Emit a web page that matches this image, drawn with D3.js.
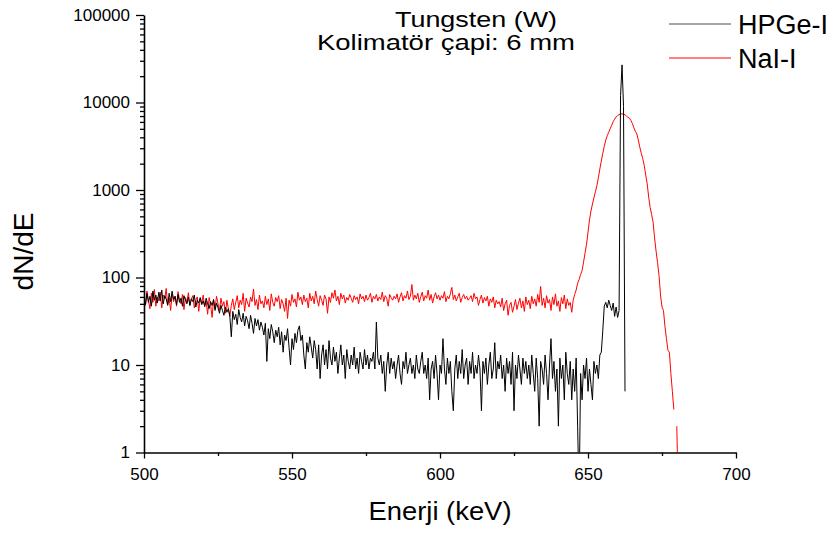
<!DOCTYPE html>
<html>
<head>
<meta charset="utf-8">
<script src="https://cdn.jsdelivr.net/npm/d3@7"></script>
<style>
  body { margin: 0; background: #ffffff; }
  svg { display: block; }
  text { font-family: "Liberation Sans", Arial, sans-serif; fill: #000; }
</style>
</head>
<body>
<svg id="chart" width="834" height="534"></svg>
<script>
// Energy grid of both spectra (keV): first channel and channel width
const energyStart = 500;
const energyStep = 0.5;

// HPGe-I spectrum, dN/dE per channel from 500.0 to 662.5 keV (10 channels per row = 5 keV)
const hpge = [
  58, 49, 66, 52, 61, 47, 70, 55, 63, 51,
  68, 54, 72, 50, 62, 57, 48, 66, 53, 70,
  56, 61, 49, 64, 52, 58, 47, 62, 55, 50,
  60, 48, 57, 53, 63, 46, 55, 51, 59, 49,
  54, 47, 58, 50, 44, 53, 48, 56, 42, 51,
  45, 39, 48, 42, 37, 46, 40, 44, 36, 21,
  41, 33, 38, 29, 43, 35, 31, 39, 28, 36,
  32, 26, 37, 30, 23, 34, 28, 33, 25, 31,
  27, 22, 30, 11, 26, 20, 29, 24, 18, 25,
  21, 27, 17, 24, 14, 22, 19, 26, 16, 10,
  20, 15, 23, 18, 25, 28, 19, 22, 13, 9,
  18, 14, 21, 16, 12, 19, 15, 9, 17, 7,
  13, 17, 10, 15, 9, 19, 12, 10, 16, 11,
  14, 8, 12, 17, 10, 13, 7, 15, 11, 9,
  13, 10, 16, 9, 12, 8, 14, 11, 9, 15,
  10, 13, 9, 12, 11, 14, 9, 31, 12, 10,
  13, 8, 11, 5, 10, 14, 8, 12, 9, 11,
  7, 10, 13, 8, 6, 11, 9, 14, 8, 10,
  12, 8, 10, 7, 13, 9, 8, 11, 14, 8,
  10, 7, 12, 4, 9, 11, 7, 13, 8, 4,
  10, 8, 20, 9, 6, 12, 8, 11, 5, 3,
  9, 13, 7, 11, 8, 15, 7, 10, 12, 6,
  11, 8, 14, 7, 10, 8, 13, 9, 3, 11,
  8, 12, 6, 10, 14, 7, 9, 18, 7, 11,
  9, 13, 7, 10, 5, 12, 8, 11, 6, 14,
  3, 10, 7, 13, 9, 6, 12, 8, 11, 7,
  10, 6, 13, 8, 5, 12, 7, 2, 11, 9,
  6, 13, 8, 4, 10, 20, 7, 11, 5, 9,
  2, 12, 7, 10, 4, 14, 8, 6, 11, 4,
  9, 5, 12, 2, 0.3, 8, 4, 10, 7, 12,
  5, 9, 6, 4, 11, 8, 10, 7, 13, 14,
  25, 47, 52, 45, 55, 48, 42, 51, 36, 46,
  35, 42, 12000, 26900, 9000, 5
];

// NaI-I spectrum, dN/dE per channel from 500.0 to 680.5 keV (null = no count recorded)
const nai = [
  62, 48, 70, 55, 44, 66, 52, 73, 47, 60,
  54, 68, 45, 63, 57, 75, 49, 58, 42, 65,
  53, 61, 47, 69, 56, 50, 64, 43, 59, 52,
  67, 48, 57, 62, 45, 55, 60, 41, 58, 51,
  63, 46, 54, 38, 59, 49, 35, 56, 44, 61,
  50, 42, 58, 47, 53, 39, 55, 44, 36, 48,
  57, 43, 52, 62, 45, 55, 49, 66, 41, 58,
  51, 46, 60, 53, 74, 48, 56, 43, 63, 50,
  54, 45, 61, 49, 57, 42, 65, 52, 47, 59,
  53, 62, 44, 56, 50, 41, 58, 34, 55, 47,
  64, 52, 57, 46, 68, 55, 60, 49, 63, 53,
  58, 45, 66, 54, 61, 50, 70, 56, 47, 62,
  55, 48, 63, 57, 39, 60, 52, 67, 58, 72,
  54, 61, 49, 66, 57, 63, 51, 59, 55, 64,
  58, 52, 62, 56, 60, 50, 65, 57, 61, 53,
  63, 55, 59, 66, 52, 61, 57, 64, 54, 60,
  56, 68, 53, 62, 58, 47, 64, 59, 55, 61,
  57, 65, 52, 60, 67, 54, 62, 58, 70, 56,
  61, 83, 55, 63, 57, 66, 52, 60, 68, 54,
  62, 58, 72, 55, 64, 51, 60, 67, 57, 63,
  55, 62, 58, 69, 53, 61, 57, 65, 77, 56,
  63, 54, 60, 66, 52, 59, 64, 57, 61, 55,
  58, 62, 53, 66, 57, 60, 48, 56, 63, 51,
  59, 54, 61, 47, 57, 52, 60, 45, 55, 50,
  53, 46, 58, 42, 50, 55, 37, 48, 52, 40,
  47, 56, 43, 51, 58, 45, 54, 41, 60, 49,
  55, 44, 61, 50, 57, 47, 64, 52, 79, 48,
  58, 45, 62, 51, 56, 42, 60, 49, 65, 47,
  54, 41, 59, 50, 63, 44, 57, 48, 52, 40,
  55, 64, 72, 86, 95, 108, 120, 150, 190, 240,
  330, 455, 575, 690, 810, 955, 1120, 1380, 1740, 2140,
  2630, 3160, 3720, 4170, 4570, 5010, 5500, 6030, 6460, 6840,
  7080, 7280, 7380, 7410, 7380, 7240, 7000, 6760, 6610, 6240,
  5750, 5130, 4680, 4370, 3720, 3090, 2630, 2290, 1905, 1480,
  1175, 830, 630, 525, 427, 282, 200, 148, 105, 63,
  46, 42, 27.5, 20, 14.8, 14, 8, 5, 3.1, null,
  2.0, 0.3
];

// Axes, ticks, labels
const xDomain = [500, 700];
const yDomain = [1, 100000];
const xTicks = [500, 550, 600, 650, 700];
const xMinorTicks = [525, 575, 625, 675];
const yTicks = [1, 10, 100, 1000, 10000, 100000];
const xTitle = "Enerji (keV)";
const yTitle = "dN/dE";
const titleLines = ["Tungsten (W)", "Kolimatör çapi: 6 mm"];
const seriesNames = ["HPGe-I", "NaI-I"];
const seriesColors = ["#000000", "#ff0000"];

const plot = { left: 144, right: 736, top: 15, bottom: 452.5 };

const svg = d3.select("#chart");

const x = d3.scaleLinear().domain(xDomain).range([plot.left, plot.right]);
const y = d3.scaleLog().domain(yDomain).range([plot.bottom, plot.top]);

// minor log ticks 2..9 in every decade
const yMinorTicks = [];
yTicks.slice(0, -1).forEach(d => { for (let k = 2; k <= 9; k++) yMinorTicks.push(d * k); });

svg.append("defs").append("clipPath").attr("id", "plotClip")
  .append("rect")
  .attr("x", plot.left).attr("y", plot.top - 2)
  .attr("width", plot.right - plot.left + 2)
  .attr("height", plot.bottom - plot.top + 2);

// Spectra
const toPoints = arr => arr.map((v, i) => ({ e: energyStart + i * energyStep, v }));
const line = d3.line()
  .defined(d => d.v !== null)
  .x(d => x(d.e))
  .y(d => y(d.v));

const spectra = [toPoints(hpge), toPoints(nai)];
const gLines = svg.append("g").attr("clip-path", "url(#plotClip)");
// NaI drawn first so the HPGe peak sits on top
[1, 0].forEach(s => {
  gLines.append("path")
    .datum(spectra[s])
    .attr("fill", "none")
    .attr("stroke", seriesColors[s])
    .attr("stroke-width", 1)
    .attr("stroke-linejoin", "round")
    .attr("d", line);
});

// Axes
const axisStyle = g => {
  g.selectAll(".domain").attr("stroke", "#000").attr("stroke-width", 1.6);
  g.selectAll(".tick line").attr("stroke", "#000").attr("stroke-width", 1.3);
  g.selectAll(".tick text").style("font-size", "17px").attr("fill", "#000");
};

svg.append("g")
  .attr("transform", `translate(0,${plot.bottom})`)
  .call(d3.axisBottom(x).tickValues(xMinorTicks).tickSize(3.5).tickFormat(""))
  .call(g => g.select(".domain").remove())
  .call(axisStyle);
svg.append("g")
  .attr("transform", `translate(0,${plot.bottom})`)
  .call(d3.axisBottom(x).tickValues(xTicks).tickSize(6).tickSizeOuter(0).tickPadding(9).tickFormat(d3.format("d")))
  .call(axisStyle);

svg.append("g")
  .attr("transform", `translate(${plot.left},0)`)
  .call(d3.axisLeft(y).tickValues(yMinorTicks).tickSize(4).tickFormat(""))
  .call(g => g.select(".domain").remove())
  .call(axisStyle);
svg.append("g")
  .attr("transform", `translate(${plot.left},0)`)
  .call(d3.axisLeft(y).tickValues(yTicks).tickSize(8).tickSizeOuter(0).tickPadding(6).tickFormat(d3.format("d")))
  .call(axisStyle);

// Axis titles
svg.append("text")
  .attr("x", (plot.left + plot.right) / 2)
  .attr("y", 520)
  .attr("text-anchor", "middle")
  .attr("textLength", 143)
  .attr("lengthAdjust", "spacingAndGlyphs")
  .style("font-size", "25px")
  .text(xTitle);

svg.append("text")
  .attr("transform", "translate(33,251.5) rotate(-90)")
  .attr("text-anchor", "middle")
  .style("font-size", "28px")
  .text(yTitle);

// Title
svg.append("text")
  .attr("x", 476).attr("y", 27)
  .attr("text-anchor", "middle")
  .attr("textLength", 162)
  .attr("lengthAdjust", "spacingAndGlyphs")
  .style("font-size", "22px")
  .text(titleLines[0]);
svg.append("text")
  .attr("x", 446).attr("y", 50)
  .attr("text-anchor", "middle")
  .attr("textLength", 258)
  .attr("lengthAdjust", "spacingAndGlyphs")
  .style("font-size", "22px")
  .text(titleLines[1]);

// Legend
const legend = svg.append("g");
seriesNames.forEach((name, i) => {
  const ly = 24 + i * 34;
  legend.append("line")
    .attr("x1", 669).attr("x2", 731)
    .attr("y1", ly).attr("y2", ly)
    .attr("stroke", seriesColors[i])
    .attr("stroke-opacity", i === 0 ? 0.7 : 1)
    .attr("stroke-width", 1);
  legend.append("text")
    .attr("x", 738).attr("y", ly + 9.5)
    .style("font-size", "27px")
    .text(name);
});
</script>
</body>
</html>
